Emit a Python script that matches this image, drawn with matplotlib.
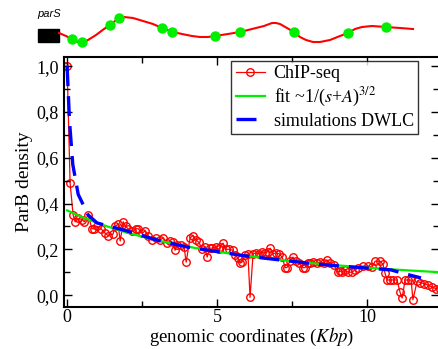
import numpy as np
import matplotlib
matplotlib.use('Agg')
import matplotlib.pyplot as plt
from matplotlib.patches import Rectangle
from matplotlib.ticker import MultipleLocator, FixedLocator

plt.rcParams['font.family'] = 'serif'
plt.rcParams['font.serif'] = ['Liberation Serif', 'DejaVu Serif']
plt.rcParams['mathtext.fontset'] = 'stix'

# ChIP-seq profile (kbp, density)
chip_x = [-0.1, 0.0, 0.1, 0.2, 0.27, 0.37, 0.5, 0.57, 0.7, 0.83, 0.9, 1.0, 1.13, 1.27, 1.37,
          1.53, 1.6, 1.7, 1.77, 1.87, 1.95, 2.03, 2.17, 2.3, 2.37, 2.5, 2.6, 2.7, 2.83, 2.95,
          3.1, 3.2, 3.33, 3.43, 3.53, 3.6, 3.67, 3.8, 3.9, 3.97, 4.1, 4.2, 4.3, 4.4, 4.5,
          4.6, 4.67, 4.75, 4.83, 4.95, 5.05, 5.1, 5.2, 5.3, 5.4, 5.53, 5.6, 5.7, 5.77, 5.83,
          5.93, 6.03, 6.1, 6.2, 6.3, 6.4, 6.5, 6.6, 6.7, 6.77, 6.87, 6.97, 7.07, 7.17, 7.27,
          7.33, 7.43, 7.53, 7.63, 7.73, 7.87, 7.93, 8.03, 8.1, 8.2, 8.33, 8.43, 8.55, 8.67, 8.77,
          8.9, 9.03, 9.1, 9.17, 9.27, 9.37, 9.5, 9.6, 9.7, 9.87, 10.03, 10.17, 10.27, 10.43,
          10.53, 10.6, 10.67, 10.77, 10.87, 11.0, 11.1, 11.17, 11.27, 11.37, 11.47, 11.53,
          11.67, 11.77, 11.9, 12.03, 12.17, 12.3, 12.43]
chip_y = [1.0, 1.0, 0.49, 0.35, 0.32, 0.335, 0.33, 0.32, 0.35, 0.29, 0.29, 0.30, 0.29, 0.27, 0.26,
          0.266, 0.30, 0.31, 0.236, 0.32, 0.30, 0.29, 0.28, 0.29, 0.29, 0.27, 0.28, 0.26, 0.24, 0.25,
          0.24, 0.25, 0.227, 0.235, 0.23, 0.196, 0.22, 0.22, 0.21, 0.144, 0.25, 0.26, 0.24, 0.23, 0.20,
          0.21, 0.166, 0.205, 0.205, 0.21, 0.20, 0.21, 0.227, 0.20, 0.20, 0.196, 0.175, 0.16, 0.14, 0.144,
          0.175, 0.18, -0.01, 0.18, 0.185, 0.18, 0.19, 0.185, 0.19, 0.205, 0.18, 0.185, 0.18, 0.166, 0.12,
          0.12, 0.15, 0.166, 0.15, 0.14, 0.12, 0.12, 0.14, 0.14, 0.145, 0.14, 0.145, 0.14, 0.153, 0.14,
          0.13, 0.10, 0.105, 0.10, 0.11, 0.10, 0.10, 0.11, 0.118, 0.127, 0.127, 0.122, 0.148, 0.148,
          0.135, 0.096, 0.066, 0.066, 0.066, 0.066, 0.013, -0.013, 0.066, 0.066, 0.066, -0.02,
          0.06, 0.055, 0.05, 0.044, 0.035, 0.028, 0.028]

# DWLC simulation
sim_x = [0.0, 0.08, 0.19, 0.37, 0.7, 1.0, 2.0, 3.0, 4.0, 5.0, 6.0, 7.0, 8.0, 9.0, 10.0, 10.8, 11.2, 11.8]
sim_y = [1.0, 0.76, 0.57, 0.44, 0.35, 0.315, 0.28, 0.24, 0.21, 0.19, 0.17, 0.155, 0.14, 0.128,
         0.118, 0.11, 0.095, 0.075]

# fit ~ C/(s+A)^{3/2}
fit_A = 8.92
fit_C = 9.86

# top strip: chromosome sketch (pixel-like units)
strip_x = [59, 66, 72, 78, 82, 88, 96, 104, 110, 115, 119, 124, 133, 143, 153, 162, 168, 173, 182,
           192, 200, 208, 215, 228, 240, 252, 264, 272, 276, 280, 287, 294, 300, 306, 313, 320,
           330, 340, 348, 355, 362, 372, 386, 400, 413]
strip_y = [33, 36, 39, 42, 43, 40, 35, 29, 25, 21, 18, 17, 18, 21, 24, 28, 30, 32, 34,
           36, 37, 37, 36, 34, 32, 29, 26, 23, 23, 24, 28, 32, 37, 40, 42, 42,
           40, 36, 33, 29, 27, 26, 27, 28, 29]
dots_x = [72, 82, 110, 119, 162, 172, 215, 240, 294, 348, 386]
dots_y = [39, 42, 25, 18, 28, 32, 36, 32, 32, 33, 27]

fig = plt.figure(figsize=(4.38, 3.49), dpi=100)

ax = fig.add_axes([63.5 / 438, 42 / 349, 375.5 / 438, 250 / 349])
s = np.linspace(0, 12.5, 200)
ax.plot(s, fit_C / (s + fit_A) ** 1.5, color='#00ee00', lw=1.6, label=r'fit ~1/($s$+$A$)$^{3/2}$', zorder=2)
ax.plot(sim_x, sim_y, color='#0000ff', lw=2.4, dashes=(6, 3), label='simulations DWLC', zorder=3)
ax.plot(chip_x, chip_y, color='#ff0000', lw=0.9, marker='o', ms=5.4, mfc='none', mec='#ff0000',
        mew=1.0, label='ChIP-seq', zorder=1)

ax.set_xlim(-0.12, 12.4)
ax.set_ylim(-0.052, 1.04)
ax.xaxis.set_major_locator(FixedLocator([0, 5, 10]))
ax.xaxis.set_minor_locator(MultipleLocator(2.5))
ax.yaxis.set_major_locator(MultipleLocator(0.2))
ax.yaxis.set_minor_locator(MultipleLocator(0.1))
ax.yaxis.set_major_formatter(plt.FuncFormatter(lambda v, p: f'{v:.1f}'.replace('.', ',').replace('-0,0', '0,0')))
ax.tick_params(which='both', direction='in', top=True, right=True, labelsize=13, width=1.0)
ax.tick_params(axis='x', pad=1.5)
ax.tick_params(which='major', length=6)
ax.tick_params(which='minor', length=4)
for sp in ax.spines.values():
    sp.set_linewidth(1.5)
ax.set_ylabel('ParB density', fontsize=14, labelpad=2)
ax.set_xlabel(r'genomic coordinates ($Kbp$)', fontsize=13.5, labelpad=0)

handles, labels = ax.get_legend_handles_labels()
order = [2, 0, 1]
leg = ax.legend([handles[i] for i in order], [labels[i] for i in order], loc='upper right',
                bbox_to_anchor=(0.945, 0.985), fontsize=13, frameon=True, fancybox=False,
                handlelength=1.6, handletextpad=0.5, borderpad=0.25, labelspacing=0.2,
                borderaxespad=0)
leg.get_frame().set_edgecolor('black')
leg.get_frame().set_linewidth(1.0)

# top strip
tx = fig.add_axes([0, 1 - 55 / 349, 1, 55 / 349])
tx.set_xlim(0, 438)
tx.set_ylim(55, 0)
tx.axis('off')
tx.plot(strip_x, strip_y, color='#ff0000', lw=1.5)
tx.plot(dots_x, dots_y, 'o', color='#00ee00', ms=7.5, mec='none')
tx.add_patch(Rectangle((37.5, 29), 21.5, 13, color='black'))
tx.text(37, 14, 'parS', fontsize=8, style='italic', family='Liberation Sans', va='center', ha='left')

fig.savefig('out.png', dpi=100)
